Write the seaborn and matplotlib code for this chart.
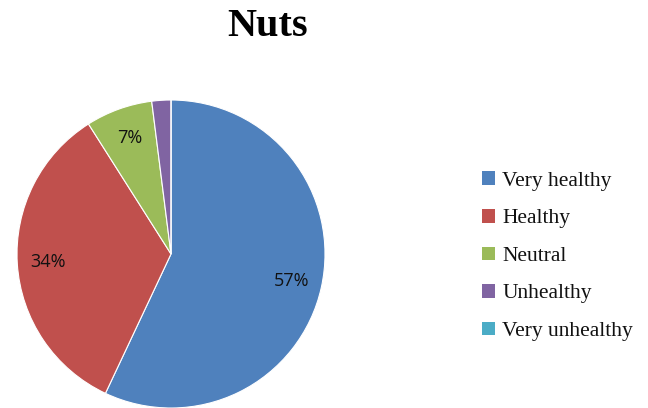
import matplotlib.pyplot as plt
from matplotlib.patches import Patch
import seaborn as sns

# Data
categories = ['Very healthy', 'Healthy', 'Neutral', 'Unhealthy', 'Very unhealthy']
shares = [57, 34, 7, 2, 0]
colors = ['#4F81BD', '#C0504D', '#9BBB59', '#8064A2', '#4BACC6']

sns.set_theme(style='white')

fig = plt.figure(figsize=(6.48, 4.08), dpi=100)
ax = fig.add_axes([17 / 648, 0.0, 308 / 648, 308 / 408])


def pct_label(p):
    return f'{p:.0f}%' if p >= 5 else ''


wedges, _, autotexts = ax.pie(
    shares, colors=colors, startangle=90, counterclock=False,
    autopct=pct_label, pctdistance=0.8, radius=1.0,
    wedgeprops={'edgecolor': 'white', 'linewidth': 0.8},
    textprops={'fontsize': 13, 'color': '#111111', 'family': ['Open Sans', 'DejaVu Sans']},
)
ax.set_xlim(-1, 1)
ax.set_ylim(-1, 1)
ax.set_aspect('equal')
ax.axis('off')

fig.text(268 / 648, 1 - 27 / 408, 'Nuts', ha='center', va='center', color='black',
         fontsize=29, fontweight='bold', family=['Liberation Serif', 'DejaVu Serif'])

handles = [Patch(facecolor=c, edgecolor='none') for c in colors]
leg = fig.legend(handles, categories, loc='center left', bbox_to_anchor=(482 / 648, 0.372),
                 frameon=False, handlelength=0.6, handleheight=0.6, handletextpad=0.35,
                 labelspacing=0.84, borderpad=0, borderaxespad=0,
                 prop={'family': ['Liberation Serif', 'DejaVu Serif'], 'size': 15.5})
for t in leg.get_texts():
    t.set_color('#111111')

fig.savefig('out.png', dpi=100)
